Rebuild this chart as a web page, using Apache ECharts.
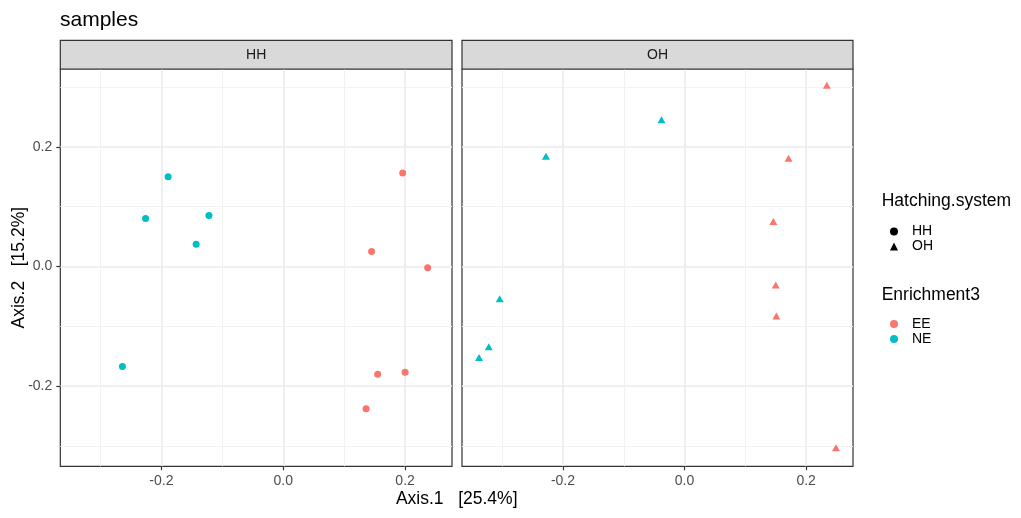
<!DOCTYPE html>
<html>
<head>
<meta charset="utf-8">
<script src="https://cdn.jsdelivr.net/npm/echarts@6/dist/echarts.min.js"></script>
<style>
html,body{margin:0;padding:0;background:#fff;}
#chart{width:1021px;height:518px;}
</style>
</head>
<body>
<div id="chart"></div>
<script>
// ---- data ----
var panels = ['HH', 'OH'];
var hhEE_x = [0.196, 0.145, 0.237, 0.155, 0.200, 0.136];
var hhEE_y = [0.156, 0.025, -0.002, -0.180, -0.177, -0.238];
var hhNE_x = [-0.189, -0.226, -0.122, -0.143, -0.264];
var hhNE_y = [0.150, 0.080, 0.085, 0.037, -0.167];
var ohEE_x = [0.234, 0.171, 0.146, 0.150, 0.151, 0.249];
var ohEE_y = [0.303, 0.181, 0.075, -0.031, -0.083, -0.303];
var ohNE_x = [-0.038, -0.228, -0.304, -0.322, -0.338];
var ohNE_y = [0.245, 0.184, -0.054, -0.134, -0.152];
var majorTicks = [-0.2, 0.0, 0.2];
var minorTicksX = [-0.3, -0.1, 0.1];
var minorTicksY = [-0.3, -0.1, 0.1, 0.3];
var xRange = [-0.366, 0.277];
var yRange = [-0.334, 0.330];

var FONT = '"Liberation Sans", Arial, sans-serif';
var RED = '#F8766D', CYAN = '#00BFC4';

function pts(xs, ys) { return xs.map(function (x, i) { return [x, ys[i]]; }); }

var G = [
  {left: 60.3, top: 69, width: 391.7, height: 397.3},
  {left: 462, top: 69, width: 391, height: 397.3}
];

function fmt(v) { return v.toFixed(1); }

function mainAxis(idx, range, showLabels) {
  return {
    type: 'value', gridIndex: idx, min: range[0], max: range[1],
    axisLine: {show: false, onZero: false},
    splitLine: {show: true, lineStyle: {color: '#ebebeb', width: 1.6}},
    axisTick: {show: showLabels, length: 4, customValues: majorTicks, lineStyle: {color: '#333', width: 1.2}},
    axisLabel: {show: showLabels, customValues: majorTicks, margin: 8, color: '#4d4d4d', fontSize: 14, fontFamily: FONT, formatter: fmt}
  };
}
function minorAxis(idx, range, vals) {
  return {
    type: 'value', gridIndex: idx, min: range[0], max: range[1],
    axisLine: {show: false, onZero: false},
    splitLine: {show: true, lineStyle: {color: '#f2f2f2', width: 1}},
    axisTick: {show: false, customValues: vals},
    axisLabel: {show: false, customValues: vals}
  };
}

function sc(name, idx, data, symbol, size, color) {
  return {type: 'scatter', name: name, xAxisIndex: idx, yAxisIndex: idx, data: data, symbol: symbol,
    symbolSize: size, itemStyle: {color: color, opacity: 1}, z: 3, silent: true};
}

var graphics = [
  {type: 'text', left: 60, top: 10, style: {text: 'samples', fontSize: 21, fontFamily: FONT, fill: '#000'}},
  {type: 'text', x: 456.7, y: 499, style: {text: 'Axis.1   [25.4%]', fontSize: 17.5, fontFamily: FONT, fill: '#000', align: 'center', verticalAlign: 'middle'}},
  {type: 'text', x: 19, y: 267.7, rotation: Math.PI / 2, style: {text: 'Axis.2   [15.2%]', fontSize: 17.5, fontFamily: FONT, fill: '#000', align: 'center', verticalAlign: 'middle'}},
  {type: 'text', x: 881.7, y: 201, style: {text: 'Hatching.system', fontSize: 17.5, fontFamily: FONT, fill: '#000', verticalAlign: 'middle'}},
  {type: 'text', x: 881.7, y: 295.5, style: {text: 'Enrichment3', fontSize: 17.5, fontFamily: FONT, fill: '#000', verticalAlign: 'middle'}}
];
G.forEach(function (g, i) {
  graphics.push({type: 'rect', shape: {x: g.left, y: 40.3, width: g.width, height: g.top - 40.3},
    style: {fill: '#d9d9d9', stroke: '#333', lineWidth: 1.2}, z: 10});
  graphics.push({type: 'text', x: g.left + g.width / 2, y: 55, z: 11,
    style: {text: panels[i], fontSize: 14, fontFamily: FONT, fill: '#1a1a1a', align: 'center', verticalAlign: 'middle'}});
});

var option = {
  backgroundColor: '#fff',
  animation: false,
  grid: G.map(function (g) {
    return {left: g.left, top: g.top, width: g.width, height: g.height, show: true,
      backgroundColor: '#fff', borderColor: '#333', borderWidth: 1.2, containLabel: false};
  }),
  xAxis: [mainAxis(0, xRange, true), mainAxis(1, xRange, true),
          minorAxis(0, xRange, minorTicksX), minorAxis(1, xRange, minorTicksX)],
  yAxis: [mainAxis(0, yRange, true), mainAxis(1, yRange, false),
          minorAxis(0, yRange, minorTicksY), minorAxis(1, yRange, minorTicksY)],
  legend: [
    {orient: 'vertical', left: 885, top: 219.5, itemWidth: 8, itemHeight: 8, itemGap: 1, selectedMode: false,
      textStyle: {fontSize: 14, fontFamily: FONT, color: '#000', lineHeight: 14, padding: [0, 0, 0, 9]},
      data: ['HH', 'OH']},
    {orient: 'vertical', left: 885, top: 312, itemWidth: 8, itemHeight: 8, itemGap: 1, selectedMode: false,
      textStyle: {fontSize: 14, fontFamily: FONT, color: '#000', lineHeight: 14, padding: [0, 0, 0, 9]},
      data: ['EE', 'NE']}
  ],
  graphic: graphics,
  series: [
    sc('HH-EE', 0, pts(hhEE_x, hhEE_y), 'circle', 7, RED),
    sc('HH-NE', 0, pts(hhNE_x, hhNE_y), 'circle', 7, CYAN),
    sc('OH-EE', 1, pts(ohEE_x, ohEE_y), 'triangle', [8, 7], RED),
    sc('OH-NE', 1, pts(ohNE_x, ohNE_y), 'triangle', [8, 7], CYAN),
    // legend-only keys
    sc('HH', 0, [], 'circle', 7, '#000'),
    sc('OH', 0, [], 'triangle', 8, '#000'),
    sc('EE', 0, [], 'circle', 7, RED),
    sc('NE', 0, [], 'circle', 7, CYAN)
  ]
};

var chart = echarts.init(document.getElementById('chart'), null, {renderer: 'canvas'});
chart.setOption(option);
</script>
</body>
</html>
